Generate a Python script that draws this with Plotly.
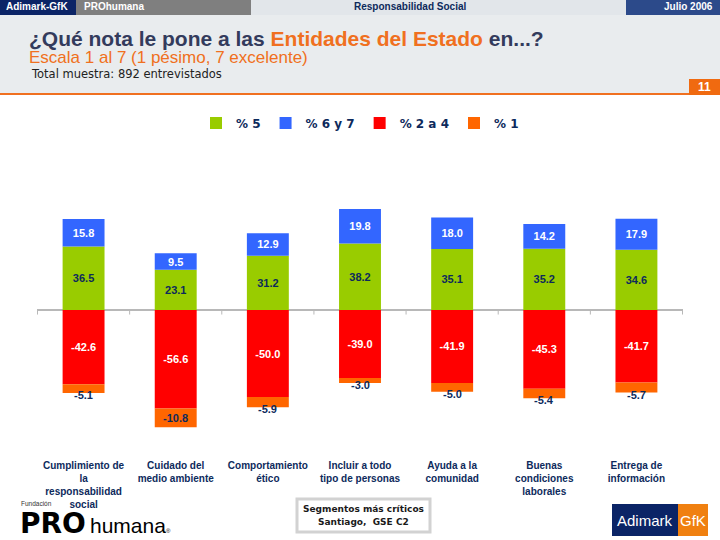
import plotly.graph_objects as go

categories = ["Cumplimiento de<br>la<br>responsabilidad<br>social",
              "Cuidado del<br>medio ambiente",
              "Comportamiento<br>ético",
              "Incluir a todo<br>tipo de personas",
              "Ayuda a la<br>comunidad",
              "Buenas<br>condiciones<br>laborales",
              "Entrega de<br>información"]
pct5 = [36.5, 23.1, 31.2, 38.2, 35.1, 35.2, 34.6]
pct67 = [15.8, 9.5, 12.9, 19.8, 18.0, 14.2, 17.9]
pct24 = [-42.6, -56.6, -50.0, -39.0, -41.9, -45.3, -41.7]
pct1 = [-5.1, -10.8, -5.9, -3.0, -5.0, -5.4, -5.7]
series_names = ["% 5", "% 6 y 7", "% 2 a 4", "% 1"]

W, H = 720, 540
L, R, T, B = 37, 683, 188, 455
NAVY = "#0d2a5c"
GREEN, BLUE, RED, ORANGE = "#99cc00", "#3366ff", "#ff0000", "#ff6600"
LBL = "Liberation Sans"


def px(x):
    return (x - L) / (R - L)


def py(y):
    return (B - y) / (B - T)


fig = go.Figure()
common = dict(width=0.455, textposition="inside", insidetextanchor="middle",
              constraintext="none", texttemplate="%{y:.1f}", marker_line_width=0)
fig.add_trace(go.Bar(x=categories, y=pct5, name=series_names[0], marker_color=GREEN,
                     textfont=dict(family=LBL, size=11, color=NAVY, weight="bold"), **common))
fig.add_trace(go.Bar(x=categories, y=pct67, name=series_names[1], marker_color=BLUE,
                     textfont=dict(family=LBL, size=11, color="white", weight="bold"), **common))
fig.add_trace(go.Bar(x=categories, y=pct24, name=series_names[2], marker_color=RED,
                     textfont=dict(family=LBL, size=11, color="white", weight="bold"), **common))
c2 = dict(common)
c2["texttemplate"] = None
c2["textposition"] = "none"
fig.add_trace(go.Bar(x=categories, y=pct1, name=series_names[3], marker_color=ORANGE, **c2))

annotations = []
shapes = []

# labels for the "% 1" segments
for c, r, o in zip(categories, pct24, pct1):
    if abs(o) >= 8:
        yy, sh = r + o / 2, 0
    else:
        yy, sh = r + o, -2
    annotations.append(dict(x=c, y=yy, xref="x", yref="y", text=f"{o:.1f}", showarrow=False,
                            yshift=sh, font=dict(family=LBL, size=11, color=NAVY, weight="bold")))

# zero axis ticks at category boundaries
for i in range(len(categories) + 1):
    shapes.append(dict(type="line", xref="x", yref="y", x0=i - 0.5, x1=i - 0.5, y0=0, y1=-2.6,
                       line=dict(color="#b8b8b8", width=1)))

# header band
shapes += [
    dict(type="rect", xref="paper", yref="paper", x0=px(0), x1=px(720), y0=py(93), y1=py(15),
         fillcolor="#e9ecee", line_width=0, layer="below"),
    dict(type="rect", xref="paper", yref="paper", x0=px(0), x1=px(76), y0=py(15), y1=py(0),
         fillcolor="#0b2466", line_width=0, layer="below"),
    dict(type="rect", xref="paper", yref="paper", x0=px(76), x1=px(251), y0=py(15), y1=py(0),
         fillcolor="#7f7f7f", line_width=0, layer="below"),
    dict(type="rect", xref="paper", yref="paper", x0=px(251), x1=px(626), y0=py(15), y1=py(0),
         fillcolor="#e2e6ea", line_width=0, layer="below"),
    dict(type="rect", xref="paper", yref="paper", x0=px(626), x1=px(720), y0=py(15), y1=py(0),
         fillcolor="#2c4a8a", line_width=0, layer="below"),
    dict(type="rect", xref="paper", yref="paper", x0=px(0), x1=px(720), y0=py(95), y1=py(93),
         fillcolor="#f07020", line_width=0, layer="below"),
    dict(type="rect", xref="paper", yref="paper", x0=px(689), x1=px(720), y0=py(95), y1=py(79),
         fillcolor="#f06a10", line_width=0, layer="below"),
    # segment box
    dict(type="rect", xref="paper", yref="paper", x0=px(297), x1=px(430), y0=py(532), y1=py(499),
         fillcolor="white", line=dict(color="#d2d2d2", width=3)),
    # Adimark GfK logo
    dict(type="rect", xref="paper", yref="paper", x0=px(612), x1=px(678), y0=py(536), y1=py(504),
         fillcolor="#0b2466", line_width=0),
    dict(type="rect", xref="paper", yref="paper", x0=px(678), x1=px(708), y0=py(536), y1=py(504),
         fillcolor="#f08010", line_width=0),
]


def txt(x, y, text, size, color, xanchor="left", weight="normal", family=LBL):
    annotations.append(dict(x=px(x), y=py(y), xref="paper", yref="paper", text=text,
                            showarrow=False, xanchor=xanchor, yanchor="middle",
                            font=dict(family=family, size=size, color=color, weight=weight)))


txt(4, 7, "Adimark-GfK", 10, "white", weight="bold")
txt(82, 7, "PROhumana", 10, "white", weight="bold")
txt(410, 7, "Responsabilidad Social", 10, NAVY, xanchor="center", weight="bold")
txt(715, 7, "Julio 2006", 10, "white", xanchor="right", weight="bold")
txt(27, 38, "¿Qué nota le pone a las <span style='color:#f07020'>Entidades del Estado</span> en...?",
    21, "#333b5c", weight="bold")
txt(27, 57.5, "Escala 1 al 7 (1 pésimo, 7 excelente)", 17, "#f07020")
txt(29, 74, "Total muestra: 892 entrevistados", 11.5, "#222222", family="DejaVu Sans")
txt(704, 87, "11", 12, "white", xanchor="center", weight="bold")
txt(363, 509, "Segmentos más críticos", 9, "#1a1a1a", xanchor="center", weight="bold", family="DejaVu Sans")
txt(363, 522, "Santiago,  GSE C2", 9, "#1a1a1a", xanchor="center", weight="bold", family="DejaVu Sans")
txt(645, 520, "Adimark", 15, "white", xanchor="center")
txt(693, 520, "GfK", 15, "white", xanchor="center")
txt(19, 503, "Fundación", 6.5, "#333333")
txt(18, 523.5, "PRO", 28, "black", weight="bold", family="DejaVu Sans")
txt(88, 525, "humana<span style='font-size:6px'>®</span>", 21, "black")

fig.update_layout(
    width=W, height=H,
    margin=dict(l=L, r=W - R, t=T, b=H - B, pad=0),
    barmode="relative",
    bargap=0.545,
    paper_bgcolor="white", plot_bgcolor="white",
    showlegend=True,
    legend=dict(orientation="h", x=0.5, xanchor="center", y=py(123), yanchor="middle",
                font=dict(family="DejaVu Sans", size=12, color=NAVY, weight="bold"),
                bgcolor="rgba(0,0,0,0)", itemwidth=30, traceorder="normal"),
    xaxis=dict(showline=False, ticks="", showgrid=False, zeroline=False,
               tickfont=dict(family=LBL, size=10, color=NAVY, weight="bold"),
               tickangle=0, fixedrange=True, ticklabelstandoff=3),
    yaxis=dict(range=[-83.3, 70.1], showgrid=False, showticklabels=False, ticks="",
               zeroline=True, zerolinecolor="#b8b8b8", zerolinewidth=2, showline=False),
    annotations=annotations,
    shapes=shapes,
    font=dict(family=LBL),
)

fig.write_html("out.html", config={"displayModeBar": False},
               post_script="document.body.style.margin='0px';document.body.style.overflow='hidden';")
